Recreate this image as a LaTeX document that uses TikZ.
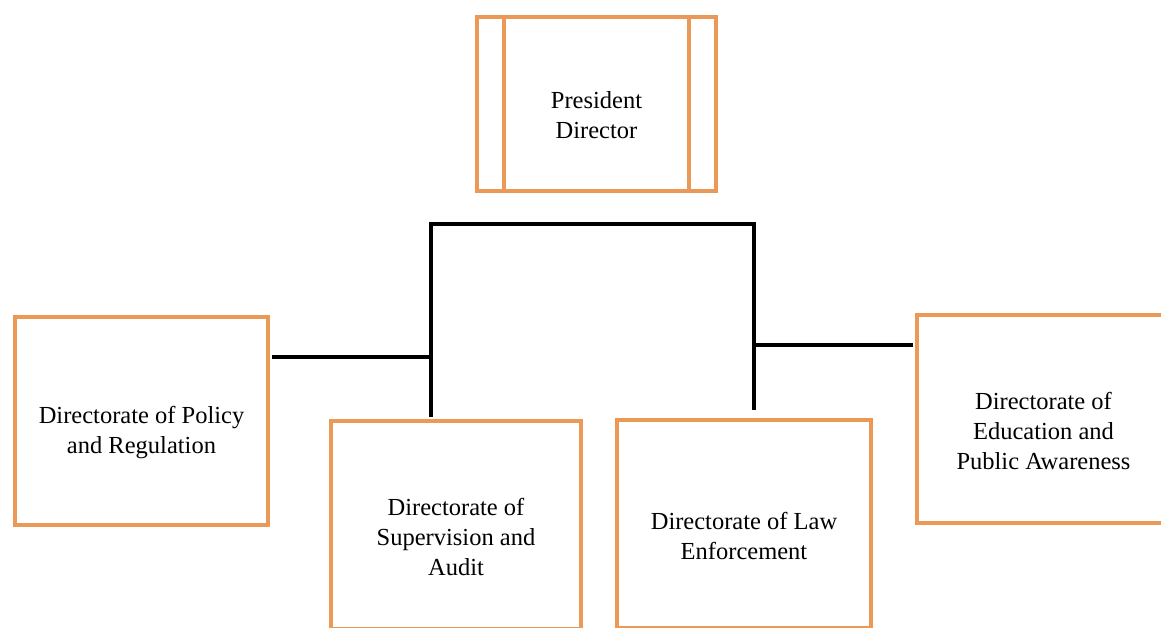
\documentclass[tikz,border=0pt]{standalone}
\usepackage{fontspec}
\setmainfont{Liberation Serif}
\usetikzlibrary{positioning,calc}
\definecolor{orgorange}{RGB}{234,153,87}

\begin{document}
\begin{tikzpicture}[x=1pt,y=-1pt,font=\fontsize{24.5}{30}\selectfont,
    unit/.style={draw=orgorange,line width=4pt,fill=white,inner sep=0pt,minimum height=208pt},
    caption/.style={align=center,inner sep=0pt},
    link/.style={line width=4.5pt,black}]
  \useasboundingbox (0,0) rectangle (1161,628);
  \clip (0,0) rectangle (1161,628);
  \fill[white] (0,0) rectangle (1161,628);
  \node[unit,minimum width=239pt,minimum height=174pt] (pres) at (596.5,104) {};
  \draw[draw=orgorange,line width=4pt] ([xshift=29pt]pres.north west) -- ([xshift=29pt]pres.south west);
  \draw[draw=orgorange,line width=4pt] ([xshift=-29pt]pres.north east) -- ([xshift=-29pt]pres.south east);
  \node[caption] (pres-txt) at ([yshift=-11pt]pres.center) {President\\Director};
  \node[unit,minimum width=253pt] (policy) at (141.5,421) {};
  \node[caption] (policy-txt) at ([yshift=-12pt]policy.center) {Directorate of Policy\\and Regulation};
  \node[unit,minimum width=250pt] (audit) at (456,525) {};
  \node[caption] (audit-txt) at ([yshift=-12pt]audit.center) {Directorate of\\Supervision and\\Audit};
  \node[unit,minimum width=254pt] (law) at (744,524) {};
  \node[caption] (law-txt) at ([yshift=-12pt]law.center) {Directorate of Law\\Enforcement};
  \node[unit,minimum width=253pt] (edu) at (1043.5,419) {};
  \node[caption] (edu-txt) at ([yshift=-12pt]edu.center) {Directorate of\\Education and\\Public Awareness};
  \coordinate (busL) at (431,224);
  \coordinate (busR) at (754,224);
  \coordinate (tapL) at (431,357);
  \coordinate (tapR) at (754,345);
  \draw[link] ([yshift=2pt]busL |- audit.north) |- (busR) -- ([yshift=8pt]busR |- law.north);
  \draw[link] (tapL) -- ([xshift=2pt]tapL -| policy.east);
  \draw[link] (tapR) -- ([xshift=-2pt]tapR -| edu.west);
\end{tikzpicture}
\end{document}
